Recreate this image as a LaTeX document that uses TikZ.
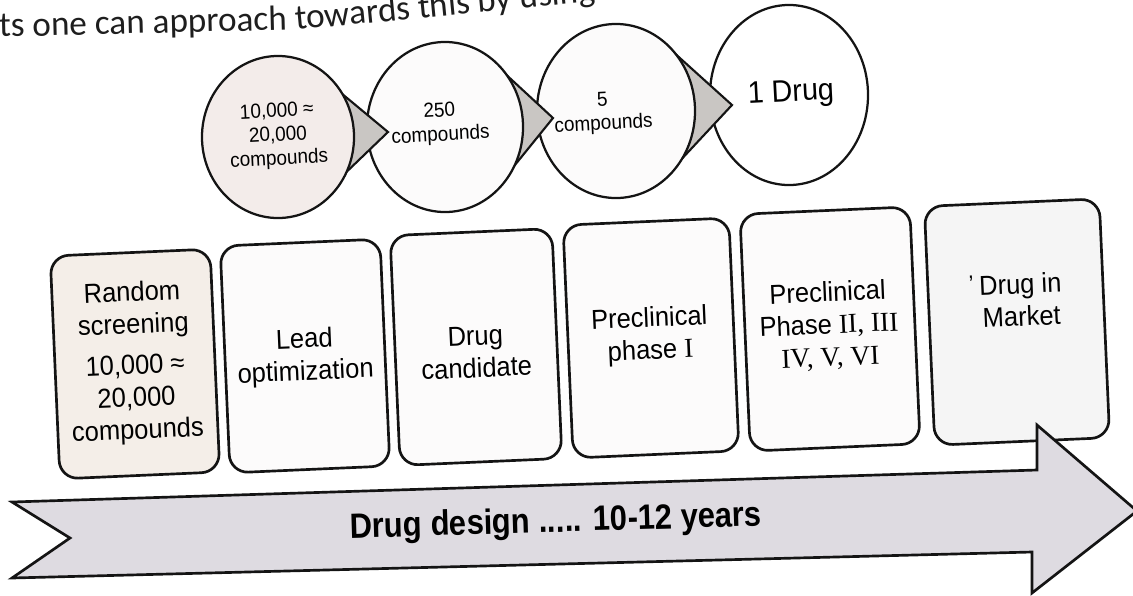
\documentclass[tikz,border=0pt]{standalone}
\usepackage{fontspec}
\setmainfont{Liberation Sans}
\newfontfamily\narrowsans[FakeStretch=0.93]{Liberation Sans}
\newfontfamily\bannerfont[FakeStretch=0.88]{Liberation Sans}
\newfontfamily\romanfont{Liberation Serif}
\newfontfamily\pagefont{Carlito}
\usetikzlibrary{shapes.geometric}

% one pixel of the 1133 x 595 canvas
\newcommand\pxu{0.7113pt}
\newcommand\rn[1]{{\romanfont #1}}

\definecolor{inkline}{HTML}{141414}
\definecolor{pinkfill}{HTML}{F3ECEA}
\definecolor{beigefill}{HTML}{F4EEE8}
\definecolor{paperfill}{HTML}{FCFBFB}
\definecolor{pointerfill}{HTML}{C9C6C3}
\definecolor{bannerfill}{HTML}{DEDBE1}
\definecolor{pagetext}{HTML}{1E1E1E}

\tikzset{
  bubble/.style={ellipse, draw=inkline, line width=1.6pt, inner sep=0pt, fill=paperfill},
  pointer/.style={draw=inkline, line width=1.5pt, fill=pointerfill, line join=miter},
  stagebox/.style={draw=inkline, rounded corners=13pt, line width=1.9pt, rotate=2.5,
    fill=paperfill, inner sep=0pt},
  boxtext/.style={font=\narrowsans\fontsize{19.5}{23}\selectfont, align=center, rotate=2.5,
    inner sep=0pt},
  bubbletext/.style={font=\narrowsans\fontsize{14.5}{17}\selectfont, align=center, rotate=3,
    inner sep=0pt},
  pagetextstyle/.style={font=\pagefont\fontsize{25}{28}\selectfont, text=pagetext,
    anchor=base west, inner sep=0pt},
  banner/.style={draw=inkline, line width=1.9pt, fill=bannerfill, line join=miter}
}

\begin{document}
\begin{tikzpicture}[x=0.025cm, y=-0.025cm]
\useasboundingbox (0,0) rectangle (1133,595);
\clip (0,0) rectangle (1133,595);

% running text of the page above the figure, following the curve of the page
\node[pagetextstyle, rotate=1.4] (pageline1) at (-1,37) {ts one can approach};
\node[pagetextstyle, rotate=5.5] (pageline2) at (296,30) {towards this by using};

% funnel of compound counts, drawn right to left so each pointer sits under its own bubble
\node[bubble, fill=white, minimum width={158*\pxu}, minimum height={180*\pxu}] (c4) at (789,95) {};
\draw[pointer] (671,50) -- (732,105) -- (677,164) -- cycle;
\node[bubble, minimum width={158*\pxu}, minimum height={174*\pxu}] (c3) at (616,111) {};
\draw[pointer] (500,69) -- (553,118) -- (506,176) -- cycle;
\node[bubble, minimum width={156*\pxu}, minimum height={170*\pxu}] (c2) at (445,127) {};
\draw[pointer] (335,88) -- (388,132) -- (336,182) -- cycle;
\node[bubble, fill=pinkfill, minimum width={152*\pxu}, minimum height={162*\pxu}] (c1) at (278,137) {};

\node[bubbletext] (c1t) at (278,136) {10,000 ≈\\20,000\\compounds};
\node[bubbletext] (c2t) at (440,124) {250\\compounds};
\node[bubbletext] (c3t) at (603,113) {5\\compounds};
\node[bubbletext, font=\narrowsans\fontsize{22}{24}\selectfont] (c4t) at (791,94) {1 Drug};

% stages of development
\node[stagebox, fill=beigefill, minimum width={160*\pxu}, minimum height={223*\pxu}] (b1) at (135,364) {};
\node[stagebox, minimum width={160*\pxu}, minimum height={227*\pxu}] (b2) at (305,356) {};
\node[stagebox, minimum width={162*\pxu}, minimum height={230*\pxu}] (b3) at (476,347) {};
\node[stagebox, minimum width={166*\pxu}, minimum height={233*\pxu}] (b4) at (651,338) {};
\node[stagebox, minimum width={170*\pxu}, minimum height={237*\pxu}] (b5) at (830,329) {};
\node[stagebox, fill=white!96!black, minimum width={175*\pxu}, minimum height={239*\pxu}] (b6) at (1017,322) {};

\node[boxtext] (b1t) at (135,363) {Random\\screening\\[6pt]10,000 ≈\\20,000\\compounds};
\node[boxtext] (b2t) at (305,357) {Lead\\optimization};
\node[boxtext] (b3t) at (476,352) {Drug\\candidate};
\node[boxtext] (b4t) at (650,336) {Preclinical\\phase \rn{I}};
\node[boxtext] (b5t) at (829,326) {Preclinical\\Phase \rn{II, III}\\\rn{IV, V, VI}};
\node[boxtext] (b6t) at (1021,300) {Drug in\\Market};
\node[boxtext, font=\narrowsans\fontsize{16}{18}\selectfont] (b6c) at (971,279) {,};

% time line arrow
\draw[banner] (12,502) -- (1037,470) -- (1037,425) -- (1137,511) -- (1032,593)
  -- (1032,552) -- (12,578) -- (70,538) -- cycle;
\node[font=\bannerfont\bfseries\fontsize{25}{28}\selectfont, rotate=1.7, inner sep=0pt]
  (bannertext) at (556,523) {Drug design ..... 10-12 years};
\end{tikzpicture}
\end{document}
